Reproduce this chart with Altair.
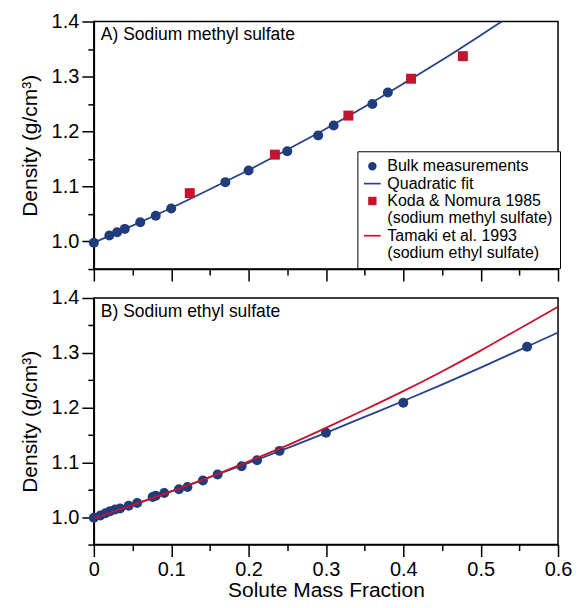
import altair as alt
import pandas as pd

# ---------------- data ----------------
# Panel A: sodium methyl sulfate
a_bulk_x = [0.0, 0.020, 0.030, 0.040, 0.060, 0.080, 0.100, 0.170, 0.200, 0.250, 0.290, 0.310, 0.360, 0.380]
a_bulk_y = [0.998, 1.011, 1.017, 1.023, 1.035, 1.047, 1.060, 1.108, 1.129, 1.164, 1.193, 1.211, 1.250, 1.271]
a_koda_x = [0.124, 0.234, 0.329, 0.410, 0.477]
a_koda_y = [1.088, 1.158, 1.229, 1.296, 1.337]
a_fit_x = [0.0, 0.05, 0.10, 0.15, 0.20, 0.25, 0.30, 0.35, 0.40, 0.45, 0.50, 0.55]
a_fit_y = [0.998, 1.029, 1.061, 1.095, 1.130, 1.167, 1.205, 1.245, 1.287, 1.330, 1.375, 1.421]

# Panel B: sodium ethyl sulfate
b_bulk_x = [0.0, 0.0085, 0.015, 0.021, 0.0275, 0.034, 0.045, 0.056, 0.076, 0.080, 0.091,
            0.110, 0.121, 0.141, 0.160, 0.191, 0.211, 0.240, 0.300, 0.400, 0.560]
b_bulk_y = [0.999, 1.003, 1.007, 1.011, 1.014, 1.016, 1.021, 1.026, 1.037, 1.039, 1.044,
            1.051, 1.055, 1.067, 1.078, 1.093, 1.104, 1.121, 1.154, 1.209, 1.311]
b_fit_x = [0.0, 0.05, 0.10, 0.15, 0.20, 0.25, 0.30, 0.35, 0.40, 0.45, 0.50, 0.55, 0.60]
b_fit_y = [0.998, 1.022, 1.047, 1.073, 1.099, 1.126, 1.154, 1.183, 1.212, 1.242, 1.273, 1.305, 1.337]
b_tam_y = [0.998, 1.022, 1.047, 1.073, 1.102, 1.131, 1.163, 1.196, 1.230, 1.266, 1.304, 1.344, 1.384]

x_ticks = [0.0, 0.05, 0.10, 0.15, 0.20, 0.25, 0.30, 0.35, 0.40, 0.45, 0.50, 0.55, 0.60]
y_ticks = [0.95, 1.0, 1.05, 1.10, 1.15, 1.20, 1.25, 1.30, 1.35, 1.40]

legend_entries = ["Bulk measurements", "Quadratic fit", "Koda & Nomura 1985",
                  "(sodium methyl sulfate)", "Tamaki et al. 1993", "(sodium ethyl sulfate)"]

panel_a_label = "A) Sodium methyl sulfate"
panel_b_label = "B) Sodium ethyl sulfate"

# ---------------- styles ----------------
BLUE_PT = "#213c7b"
BLUE_LN = "#27428c"
RED = "#c4142e"
FONT = "Liberation Sans"
LINE_SYM = "M-2,-0.2L2,-0.2L2,0.2L-2,0.2Z"
BLANK_SYM = "M0,0Z"

W, H_A, H_B = 465, 248, 247

major = "abs(datum.value*10 - round(datum.value*10)) < 0.001"
# all ticks are 12 px long; minor ones are cut to 6 px by a dash pattern
tick_dash = {"condition": {"test": f"!({major})", "value": [6, 40]}, "value": [1, 0]}

x_dom = [0, 0.6]
y_dom = [0.95, 1.4]

AXIS_STYLE = dict(
    domainColor="black", domainWidth=1.5, tickColor="black", tickWidth=1.5,
    tickSize=12, tickDash=tick_dash,
    labelFont=FONT, labelFontSize=20, labelColor="black",
    titleFont=FONT, titleFontSize=21, titleFontWeight="normal", titleColor="black",
)


def x_enc(show_labels):
    axis = alt.Axis(values=x_ticks, grid=False, labelFlush=False,
                    labelExpr=f"({major}) ? (datum.value == 0 ? '0' : format(datum.value, '.1f')) : ''",
                    labels=show_labels, title="Solute Mass Fraction" if show_labels else None,
                    labelPadding=3, titlePadding=0, **AXIS_STYLE)
    return alt.X("x:Q", scale=alt.Scale(domain=x_dom, nice=False), axis=axis)


def y_enc():
    axis = alt.Axis(values=y_ticks, grid=False,
                    labelExpr=f"({major}) ? format(datum.value, '.1f') : ''",
                    title="Density (g/cm³)", labelPadding=3, titlePadding=11, **AXIS_STYLE)
    return alt.Y("y:Q", scale=alt.Scale(domain=y_dom, nice=False, zero=False), axis=axis)


color_scale = alt.Scale(domain=legend_entries,
                        range=[BLUE_PT, BLUE_LN, RED, "#ffffff", RED, "#ffffff"])
shape_scale = alt.Scale(domain=legend_entries,
                        range=["circle", LINE_SYM, "square", BLANK_SYM, LINE_SYM, BLANK_SYM])

# ---------------- panel A ----------------
fit_a = pd.DataFrame({"x": a_fit_x, "y": a_fit_y})
pts_a = pd.DataFrame({
    "x": a_bulk_x + a_koda_x,
    "y": a_bulk_y + a_koda_y,
    "series": [legend_entries[0]] * len(a_bulk_x) + [legend_entries[2]] * len(a_koda_x),
})

legend = alt.Legend(
    title=None, orient="none", legendX=264, legendY=130,
    strokeColor="black", fillColor="white", padding=7,
    labelFont=FONT, labelFontSize=16, labelColor="black",
    symbolSize=70, symbolStrokeWidth=0, rowPadding=1.4, labelOffset=7,
    symbolOffset=0, labelLimit=300,
)

line_a = alt.Chart(fit_a).mark_line(color=BLUE_LN, strokeWidth=1.8, clip=True,
                                    interpolate="monotone").encode(x=x_enc(False), y=y_enc())
point_a = alt.Chart(pts_a).mark_point(filled=True, opacity=1, size=100).encode(
    x=x_enc(False), y=y_enc(),
    color=alt.Color("series:N", scale=color_scale, legend=legend),
    shape=alt.Shape("series:N", scale=shape_scale, legend=legend),
)
text_a = alt.Chart(pd.DataFrame({"t": [panel_a_label]})).mark_text(
    align="left", baseline="middle", font=FONT, fontSize=17.5, color="black"
).encode(text="t:N", x=alt.value(7), y=alt.value(14))

panel_a = alt.layer(line_a, point_a, text_a).properties(width=W, height=H_A)

# ---------------- panel B ----------------
fit_b = pd.DataFrame({"x": b_fit_x, "y": b_fit_y})
tam_b = pd.DataFrame({"x": b_fit_x, "y": b_tam_y})
pts_b = pd.DataFrame({"x": b_bulk_x, "y": b_bulk_y})

line_b = alt.Chart(fit_b).mark_line(color=BLUE_LN, strokeWidth=1.8, clip=True,
                                    interpolate="monotone").encode(x=x_enc(True), y=y_enc())
point_b = alt.Chart(pts_b).mark_point(filled=True, opacity=1, size=100, shape="circle",
                                      color=BLUE_PT).encode(x=x_enc(True), y=y_enc())
red_b = alt.Chart(tam_b).mark_line(color=RED, strokeWidth=1.8, clip=True,
                                   interpolate="monotone").encode(x=x_enc(True), y=y_enc())
text_b = alt.Chart(pd.DataFrame({"t": [panel_b_label]})).mark_text(
    align="left", baseline="middle", font=FONT, fontSize=17.5, color="black"
).encode(text="t:N", x=alt.value(7), y=alt.value(14))

panel_b = alt.layer(line_b, point_b, red_b, text_b).properties(width=W, height=H_B)

chart = alt.vconcat(panel_a, panel_b, spacing=4).properties(
    padding={"left": 10, "top": 2, "right": 0, "bottom": -2},
    background="white",
).configure_view(
    stroke="black", strokeWidth=1.5
)

chart.save("out.html", embed_options={"renderer": "svg", "actions": False})
